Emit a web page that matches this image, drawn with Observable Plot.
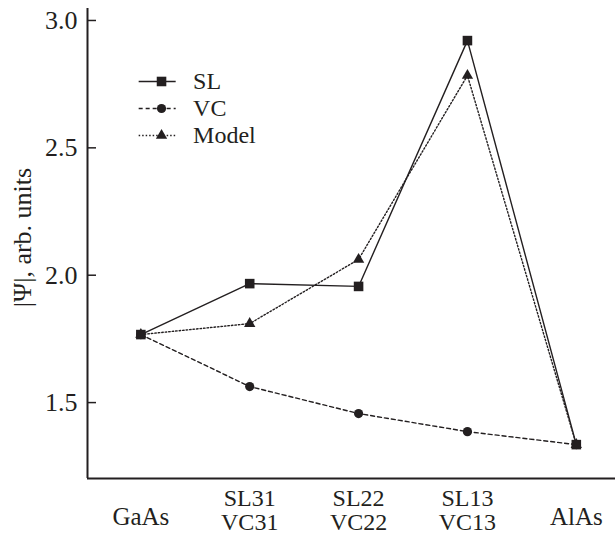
<!DOCTYPE html>
<html>
<head>
<meta charset="utf-8">
<script src="https://cdn.jsdelivr.net/npm/d3@7"></script>
<script src="https://cdn.jsdelivr.net/npm/@observablehq/plot@0.6"></script>
<style>
  html, body { margin: 0; padding: 0; background: #fff; }
  #chart svg { display: block; }
</style>
</head>
<body>
<div id="chart"></div>
<script>
// ---- data ----
const categories = ["GaAs", "SL31\nVC31", "SL22\nVC22", "SL13\nVC13", "AlAs"];
const seriesNames = ["SL", "VC", "Model"];
const slValues    = [1.767, 1.967, 1.956, 2.921, 1.335];
const vcValues    = [1.767, 1.563, 1.457, 1.386, 1.335];
const modelValues = [1.767, 1.810, 2.062, 2.784, 1.335];
const yTicks = [1.5, 2.0, 2.5, 3.0];
const yLabel = "|\u03A8|, arb. units";

// ---- build table ----
const valuesBySeries = {SL: slValues, VC: vcValues, Model: modelValues};
const rows = seriesNames.flatMap(s => valuesBySeries[s].map((v, i) => ({series: s, i, v})));
const catRows = categories.map((c, i) => ({i, label: c}));
const singleCats = catRows.filter(d => !d.label.includes("\n"));
const doubleCats = catRows.filter(d => d.label.includes("\n"));

// ---- styles ----
const FONT = "'Liberation Serif', 'Times New Roman', Times, serif";
const INK = "#231f20";
const styles = {
  SL:    {dash: null,    symbol: "square",   r: 5.4},
  VC:    {dash: "4,3",   symbol: "circle",   r: 4.6},
  Model: {dash: "1.5,2", symbol: "triangle", r: 4.2}
};

const xDomain = [-0.49, 4.36];
const yDomain = [1.202, 3.047];

// legend layout (in data units of the plot)
const legendX = {x1: -0.02, x2: 0.32, mark: 0.19, text: 0.48};
const legendY = {SL: 2.7605, VC: 2.6545, Model: 2.5485};

const marks = [];
// axis lines
marks.push(Plot.ruleX([xDomain[0]], {stroke: INK, strokeWidth: 2}));
marks.push(Plot.ruleY([yDomain[0]], {stroke: INK, strokeWidth: 2}));
// inward y ticks
marks.push(Plot.tickY(yTicks, {y: d => d, stroke: INK, strokeWidth: 1.5, insetRight: 615 - 87 - 9}));
marks.push(Plot.axisY(yTicks, {tickSize: 0, tickPadding: 10, tickFormat: d3.format(".1f"),
  fontSize: 26, fontFamily: FONT, fill: INK, label: null}));
// y label
marks.push(Plot.text([yLabel], {frameAnchor: "left", textAnchor: "middle", rotate: -90, dx: -65, dy: -6,
  fontSize: 26, fontFamily: FONT, fill: INK}));
// x category labels
marks.push(Plot.text(singleCats, {x: "i", text: "label", frameAnchor: "bottom", dy: 38,
  lineAnchor: "middle", fontSize: 25, fontFamily: FONT, fill: INK}));
marks.push(Plot.text(doubleCats, {x: "i", text: "label", frameAnchor: "bottom", dy: 32,
  lineAnchor: "middle", lineHeight: 0.98, fontSize: 24, fontFamily: FONT, fill: INK}));

// series lines and markers
for (const s of ["VC", "Model", "SL"]) {
  const st = styles[s];
  const data = rows.filter(d => d.series === s);
  marks.push(Plot.line(data, {x: "i", y: "v", stroke: INK, strokeWidth: 1.4,
    strokeDasharray: st.dash}));
}
for (const s of ["VC", "SL", "Model"]) {
  const st = styles[s];
  const data = rows.filter(d => d.series === s);
  marks.push(Plot.dot(data, {x: "i", y: "v", symbol: () => st.symbol, r: st.r, fill: INK, stroke: "none"}));
}

// legend
for (const s of seriesNames) {
  const st = styles[s];
  const y = legendY[s];
  marks.push(Plot.link([s], {x1: legendX.x1, x2: legendX.x2, y1: y, y2: y, stroke: INK,
    strokeWidth: 1.4, strokeDasharray: st.dash}));
  marks.push(Plot.dot([s], {x: legendX.mark, y, symbol: () => st.symbol, r: st.r, fill: INK, stroke: "none"}));
  marks.push(Plot.text([s], {x: legendX.text, y, text: d => d, textAnchor: "start",
    fontSize: 24, fontFamily: FONT, fill: INK}));
}

const chart = Plot.plot({
  width: 615,
  height: 534,
  marginLeft: 87,
  marginRight: 0,
  marginTop: 8,
  marginBottom: 56,
  style: {background: "#fff", fontFamily: FONT},
  x: {type: "linear", domain: xDomain, axis: null},
  y: {type: "linear", domain: yDomain, axis: null},
  symbol: {type: "identity"},
  marks
});
document.getElementById("chart").appendChild(chart);
</script>
</body>
</html>
